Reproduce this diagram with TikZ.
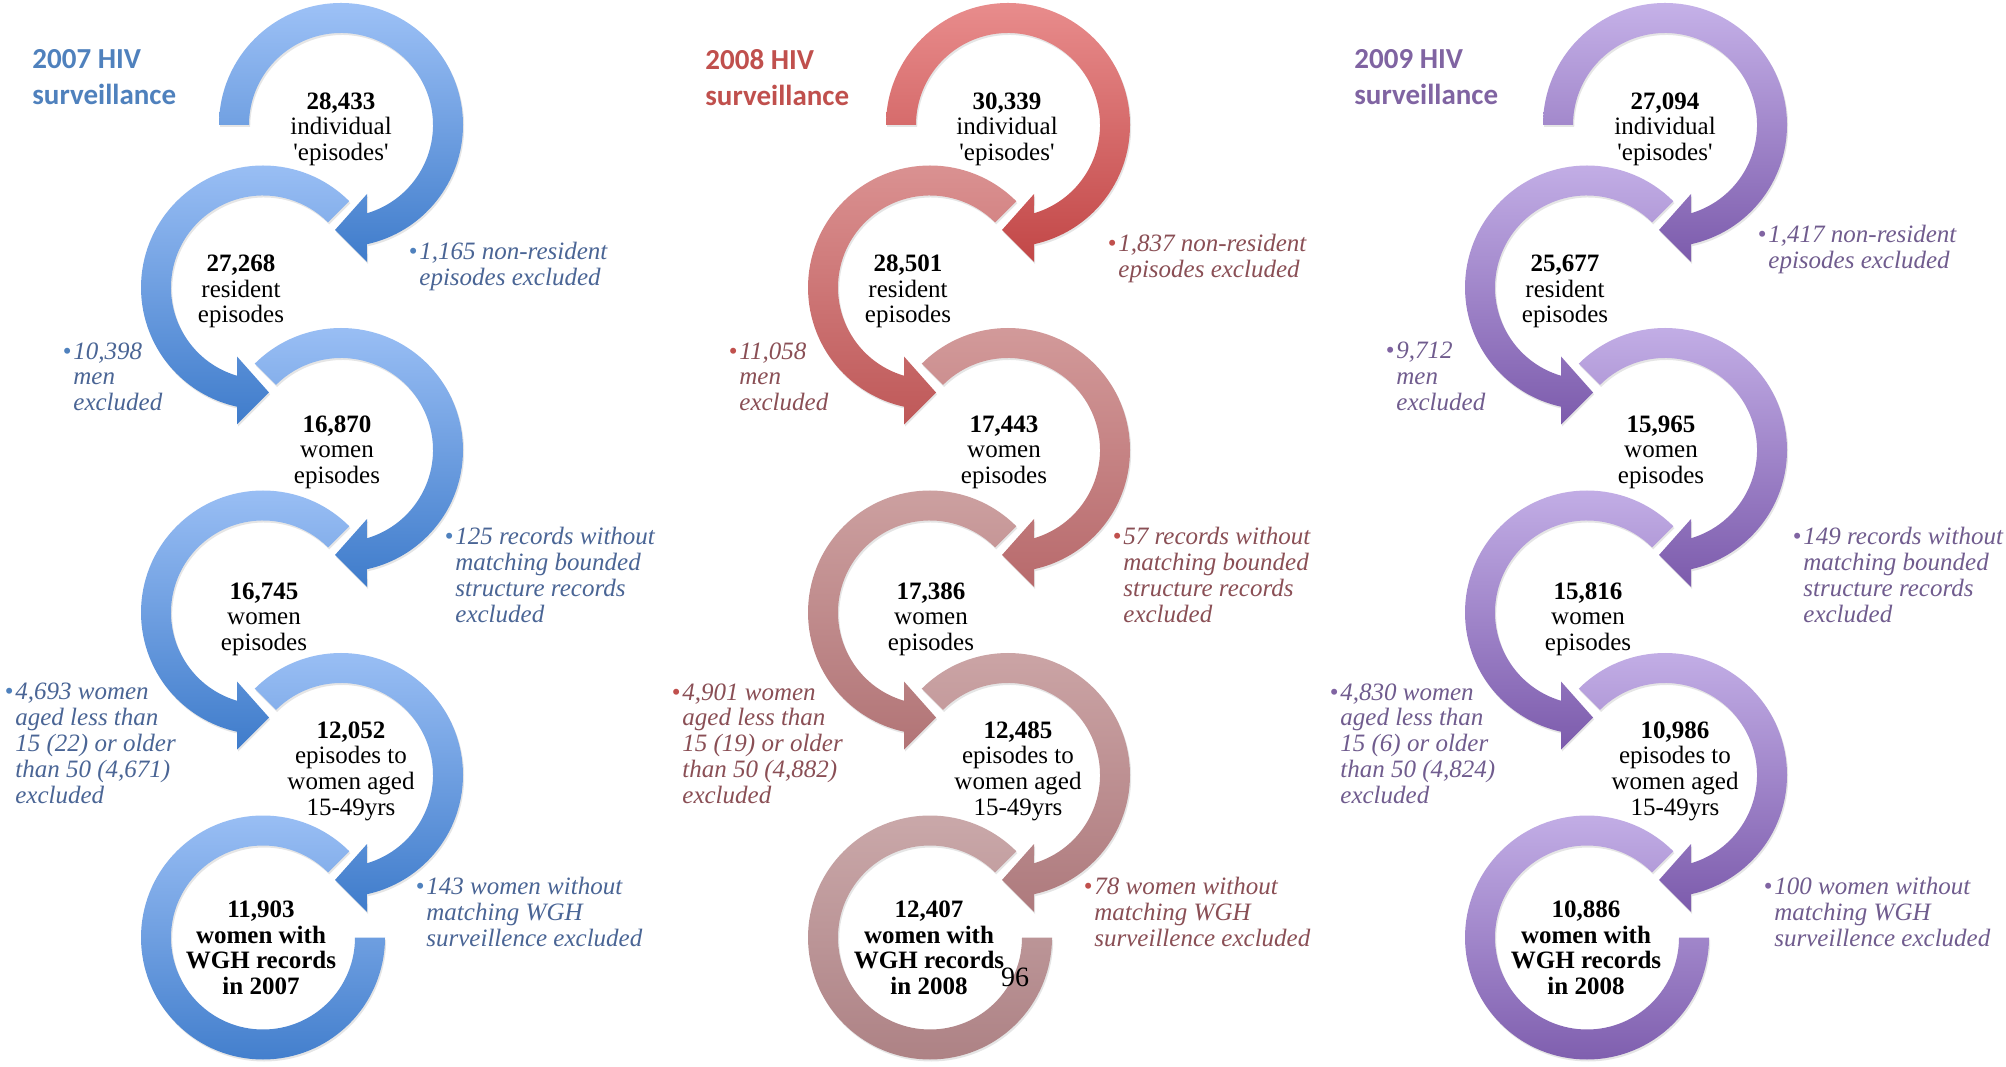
\documentclass[tikz,border=0pt]{standalone}
\usepackage{fontspec}
\setmainfont{Liberation Serif}
\newfontfamily\titlefont{Carlito}
\usepackage{tikz}
\usetikzlibrary{shadows}

\definecolor{blueTitle}{HTML}{4F81BD}
\definecolor{blueNote}{HTML}{4A6595}
\definecolor{blueTop}{HTML}{9DC1F6}
\definecolor{blueBot}{HTML}{3F7CCB}
\definecolor{redTitle}{HTML}{C0504D}
\definecolor{redNote}{HTML}{8A4F55}
\definecolor{redTopA}{HTML}{E88C8C}\definecolor{redBotA}{HTML}{C24747}
\definecolor{redTopB}{HTML}{DB9494}\definecolor{redBotB}{HTML}{BF5858}
\definecolor{redTopC}{HTML}{D39C9C}\definecolor{redBotC}{HTML}{B86A6C}
\definecolor{redTopD}{HTML}{CDA2A2}\definecolor{redBotD}{HTML}{B27476}
\definecolor{redTopE}{HTML}{CCA6A7}\definecolor{redBotE}{HTML}{AE7A7D}
\definecolor{redTopF}{HTML}{CBAAAB}\definecolor{redBotF}{HTML}{AC8083}
\definecolor{purpleTitle}{HTML}{8064A2}
\definecolor{purpleNote}{HTML}{705C8E}
\definecolor{purpleTop}{HTML}{C5B1E8}
\definecolor{purpleBot}{HTML}{7C5BAC}

% clockwise ring arrow: centre x, centre y, tail angle, top colour, bottom colour
\newcommand{\cwarrow}[5]{%
  \shade[band,top color=#4,bottom color=#5,shift={(#1,#2)}]
    (#3:122) arc[start angle=#3,end angle=-77.7,radius=122]
    -- (26,-137) -- (-6,-105) -- (26,-69) -- (-73.6:92)
    arc[start angle=-73.6,end angle=#3,radius=92] -- cycle;}
% counter-clockwise ring arrow
\newcommand{\ccwarrow}[5]{%
  \shade[band,top color=#4,bottom color=#5,shift={(#1,#2)}]
    (#3:122) arc[start angle=#3,end angle=257.7,radius=122]
    -- (-26,-137) -- (6,-105) -- (-26,-69) -- (253.6:92)
    arc[start angle=253.6,end angle=#3,radius=92] -- cycle;}
% last ring, no head
\newcommand{\lastring}[4]{%
  \shade[band,top color=#3,bottom color=#4,shift={(#1,#2)}]
    (45:122) arc[start angle=45,end angle=360,radius=122]
    -- (0:92) arc[start angle=360,end angle=45,radius=92] -- cycle;}

\begin{document}
\begin{tikzpicture}[x=0.5pt,y=0.5pt,
    stage/.style={align=center,inner sep=0,font=\fontsize{12.5}{12.8}\selectfont},
    excl/.style={align=left,inner sep=0,anchor=north west,font=\fontsize{12.5}{12.9}\selectfont\itshape},
    heading/.style={align=left,inner sep=0,anchor=north west,font=\titlefont\bfseries\fontsize{14.5}{18}\selectfont},
    band/.style={drop shadow={opacity=0.2,shadow xshift=0.6pt,shadow yshift=-1pt}}
]
\useasboundingbox (0,0) rectangle (2006,1066);
\fill[white] (0,0) rectangle (2006,1066);

% 2007
\cwarrow{341}{941}{180}{blueTop}{blueBot}
\ccwarrow{263}{778.5}{45}{blueTop}{blueBot}
\cwarrow{341}{616}{135}{blueTop}{blueBot}
\ccwarrow{263}{453.5}{45}{blueTop}{blueBot}
\cwarrow{341}{291}{135}{blueTop}{blueBot}
\lastring{263}{128.5}{blueTop}{blueBot}

% 2008
\cwarrow{1008}{941}{180}{redTopA}{redBotA}
\ccwarrow{930}{778.5}{45}{redTopB}{redBotB}
\cwarrow{1008}{616}{135}{redTopC}{redBotC}
\ccwarrow{930}{453.5}{45}{redTopD}{redBotD}
\cwarrow{1008}{291}{135}{redTopE}{redBotE}
\lastring{930}{128.5}{redTopF}{redBotF}

% 2009
\cwarrow{1665}{941}{180}{purpleTop}{purpleBot}
\ccwarrow{1587}{778.5}{45}{purpleTop}{purpleBot}
\cwarrow{1665}{616}{135}{purpleTop}{purpleBot}
\ccwarrow{1587}{453.5}{45}{purpleTop}{purpleBot}
\cwarrow{1665}{291}{135}{purpleTop}{purpleBot}
\lastring{1587}{128.5}{purpleTop}{purpleBot}

% titles
\node[heading,text=blueTitle] (head07) at (32,1017) {2007 HIV\\surveillance};
\node[heading,text=redTitle] (head08) at (705,1017) {2008 HIV\\surveillance};
\node[heading,text=purpleTitle] (head09) at (1354,1017) {2009 HIV\\surveillance};

% counts 2007
\node[stage] (s07a) at (341,937) {\textbf{28,433}\\individual\\\textquotesingle episodes\textquotesingle};
\node[stage] (s07b) at (241,774.5) {\textbf{27,268}\\resident\\episodes};
\node[stage] (s07c) at (337,614) {\textbf{16,870}\\women\\episodes};
\node[stage] (s07d) at (264,447) {\textbf{16,745}\\women\\episodes};
\node[stage] (s07e) at (351,295) {\textbf{12,052}\\episodes to\\women aged\\15-49yrs};
\node[stage,font=\fontsize{12.5}{12.8}\selectfont\bfseries] (s07f) at (261,118) {11,903\\women with\\WGH records\\in 2007};

% counts 2008
\node[stage] (s08a) at (1007,937) {\textbf{30,339}\\individual\\\textquotesingle episodes\textquotesingle};
\node[stage] (s08b) at (908,774.5) {\textbf{28,501}\\resident\\episodes};
\node[stage] (s08c) at (1004,614) {\textbf{17,443}\\women\\episodes};
\node[stage] (s08d) at (931,447) {\textbf{17,386}\\women\\episodes};
\node[stage] (s08e) at (1018,295) {\textbf{12,485}\\episodes to\\women aged\\15-49yrs};
\node[stage,font=\fontsize{12.5}{12.8}\selectfont\bfseries] (s08f) at (929,118) {12,407\\women with\\WGH records\\in 2008};

% counts 2009
\node[stage] (s09a) at (1665,937) {\textbf{27,094}\\individual\\\textquotesingle episodes\textquotesingle};
\node[stage] (s09b) at (1565,774.5) {\textbf{25,677}\\resident\\episodes};
\node[stage] (s09c) at (1661,614) {\textbf{15,965}\\women\\episodes};
\node[stage] (s09d) at (1588,447) {\textbf{15,816}\\women\\episodes};
\node[stage] (s09e) at (1675,295) {\textbf{10,986}\\episodes to\\women aged\\15-49yrs};
\node[stage,font=\fontsize{12.5}{12.8}\selectfont\bfseries] (s09f) at (1586,118) {10,886\\women with\\WGH records\\in 2008};

% exclusions 2007
\node[excl,text=blueNote] (x07a) at (419,824) {\llap{\textcolor{blueTitle}{•}\kern1pt}1,165 non-resident\\episodes excluded};
\node[excl,text=blueNote] (x07b) at (73,724) {\llap{\textcolor{blueTitle}{•}\kern1pt}10,398\\men\\excluded};
\node[excl,text=blueNote] (x07c) at (455,539) {\llap{\textcolor{blueTitle}{•}\kern1pt}125 records without\\matching bounded\\structure records\\excluded};
\node[excl,text=blueNote] (x07d) at (15,383) {\llap{\textcolor{blueTitle}{•}\kern1pt}4,693 women\\aged less than\\15 (22) or older\\than 50 (4,671)\\excluded};
\node[excl,text=blueNote] (x07e) at (426,189) {\llap{\textcolor{blueTitle}{•}\kern1pt}143 women without\\matching WGH\\surveillence excluded};

% exclusions 2008
\node[excl,text=redNote] (x08a) at (1118,832) {\llap{\textcolor{redTitle}{•}\kern1pt}1,837 non-resident\\episodes excluded};
\node[excl,text=redNote] (x08b) at (739,724) {\llap{\textcolor{redTitle}{•}\kern1pt}11,058\\men\\excluded};
\node[excl,text=redNote] (x08c) at (1123,539) {\llap{\textcolor{redTitle}{•}\kern1pt}57 records without\\matching bounded\\structure records\\excluded};
\node[excl,text=redNote] (x08d) at (682,383) {\llap{\textcolor{redTitle}{•}\kern1pt}4,901 women\\aged less than\\15 (19) or older\\than 50 (4,882)\\excluded};
\node[excl,text=redNote] (x08e) at (1094,189) {\llap{\textcolor{redTitle}{•}\kern1pt}78 women without\\matching WGH\\surveillence excluded};

% exclusions 2009
\node[excl,text=purpleNote] (x09a) at (1768,841) {\llap{\textcolor{purpleTitle}{•}\kern1pt}1,417 non-resident\\episodes excluded};
\node[excl,text=purpleNote] (x09b) at (1396,724) {\llap{\textcolor{purpleTitle}{•}\kern1pt}9,712\\men\\excluded};
\node[excl,text=purpleNote] (x09c) at (1803,539) {\llap{\textcolor{purpleTitle}{•}\kern1pt}149 records without\\matching bounded\\structure records\\excluded};
\node[excl,text=purpleNote] (x09d) at (1340,383) {\llap{\textcolor{purpleTitle}{•}\kern1pt}4,830 women\\aged less than\\15 (6) or older\\than 50 (4,824)\\excluded};
\node[excl,text=purpleNote] (x09e) at (1774,189) {\llap{\textcolor{purpleTitle}{•}\kern1pt}100 women without\\matching WGH\\surveillence excluded};

\node[inner sep=0,font=\fontsize{14}{14}\selectfont] (pageno) at (1015,89) {96};
\end{tikzpicture}
\end{document}
